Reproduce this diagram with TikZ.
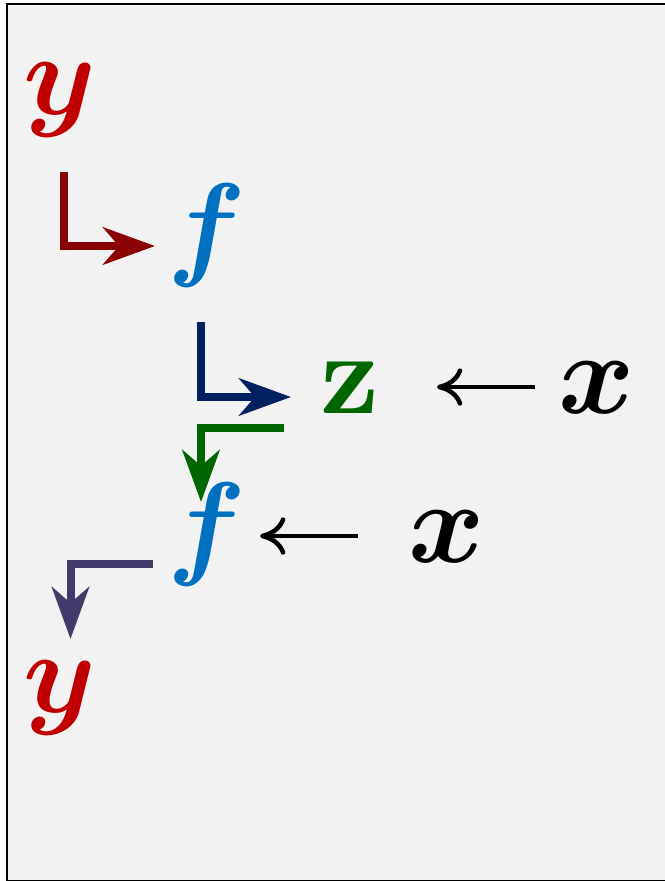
\documentclass[tikz,border=0pt]{standalone}
\usepackage{graphicx}
\usepackage{amsmath,bm}
\usetikzlibrary{arrows.meta}
\definecolor{bgcol}{HTML}{F2F2F2}
\definecolor{ycol}{HTML}{C00000}
\definecolor{fcol}{HTML}{0070C0}
\definecolor{zcol}{HTML}{006600}
\definecolor{redarr}{HTML}{8B0000}
\definecolor{navyarr}{HTML}{002060}
\definecolor{purparr}{HTML}{433A6B}
\newcommand{\hugesym}[1]{\scalebox{8.7}{$#1$}}
\begin{document}
\begin{tikzpicture}[x=0.75pt,y=-0.75pt,
  lbl/.style={inner sep=0pt,anchor=base},
  elbow/.style={line width=6pt,line join=miter,-{Stealth[length=39pt,width=28pt,inset=12pt]}},
  thinarr/.style={line width=3.4pt,-{Computer Modern Rightarrow[length=19pt,width=28pt]}}]
\useasboundingbox (0,0) rectangle (664,881);
\draw[line width=1.5pt,fill=bgcol] (6.5,4) rectangle (700,880.5);
% labels
\node[lbl,text=ycol] (y1) at (60,114.5) {\hugesym{\bm{y}}};
\node[lbl,text=fcol] (f1) at (207,264.5) {\hugesym{\bm{f}}};
\node[lbl,text=zcol] (z) at (350,413) {\hugesym{\mathbf{z}}};
\node[lbl,text=black] (x1) at (597,413) {\hugesym{\bm{x}}};
\node[lbl,text=fcol] (f2) at (207,563.5) {\hugesym{\bm{f}}};
\node[lbl,text=black] (x2) at (447,562) {\hugesym{\bm{x}}};
\node[lbl,text=ycol] (y2) at (60,712.5) {\hugesym{\bm{y}}};
% connector ends
\coordinate (r0) at (64,172);   \coordinate (r1) at (155,246);
\coordinate (b0) at (200.5,322);\coordinate (b1) at (291,397);
\coordinate (g0) at (284,428);  \coordinate (g1) at (201,502);
\coordinate (p0) at (153,564);  \coordinate (p1) at (70.5,639);
\coordinate (k0) at (535,387);  \coordinate (k1) at (437,387);
\coordinate (m0) at (358,536);  \coordinate (m1) at (260,536);
% connectors
\draw[elbow,draw=redarr] (r0) |- (r1);
\draw[elbow,draw=navyarr] (b0) |- (b1);
\draw[elbow,draw=zcol] (g0) -| (g1);
\draw[elbow,draw=purparr] (p0) -| (p1);
\draw[thinarr] (k0) -- (k1);
\draw[thinarr] (m0) -- (m1);
\end{tikzpicture}
\end{document}
